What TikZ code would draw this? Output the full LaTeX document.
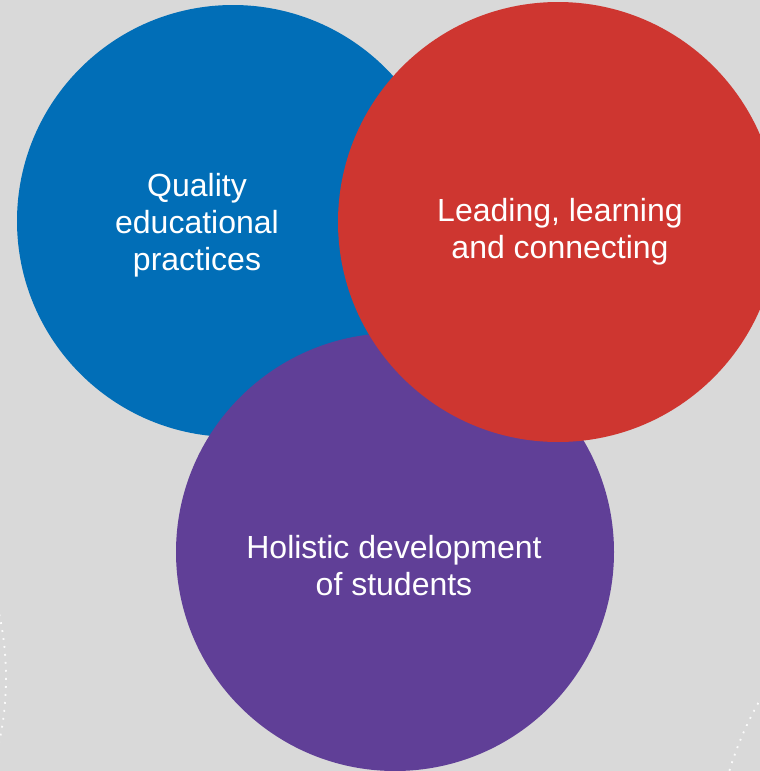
\documentclass[tikz,border=0pt]{standalone}
\usepackage{fontspec}
\setmainfont{Liberation Sans}
\definecolor{bggray}{RGB}{217,217,217}
\definecolor{qualityblue}{RGB}{1,110,183}
\definecolor{leadred}{RGB}{206,54,48}
\definecolor{holisticpurple}{RGB}{96,63,151}

\tikzset{
  circle text/.style={text=white, align=center, inner sep=0.75pt,
    font=\fontsize{32}{37}\selectfont},
  dot ring/.style={white, line width=1.8pt, dash pattern=on 1.8pt off 6.2pt, opacity=0.9}
}

\begin{document}
\begin{tikzpicture}[x=1pt,y=1pt,yscale=-1,xscale=1]
\useasboundingbox (0,0) rectangle (760,771);
\clip (0,0) rectangle (760,771);

%Shape: Rectangle
\fill [bggray] (0,0) rectangle (760,771);

%Shape: Circle (dotted ring, left)
\draw [dot ring] (-297,678) circle (303);
%Shape: Circle (dotted ring, right)
\draw [dot ring] (1055,869) circle (340);

%Shape: Circle
\fill [qualityblue] (233,221) circle (216);
%Shape: Circle
\fill [holisticpurple] (395,552) circle (219);
%Shape: Circle
\fill [leadred] (558,222) circle (220);

% Text Node
\node [circle text] (quality) at (197,225) {Quality\\educational\\practices};
% Text Node
\node [circle text] (leading) at (560,232) {Leading, learning\\and connecting};
% Text Node
\node [circle text] (holistic) at (394,566) {Holistic development\\of students};

\end{tikzpicture}
\end{document}
